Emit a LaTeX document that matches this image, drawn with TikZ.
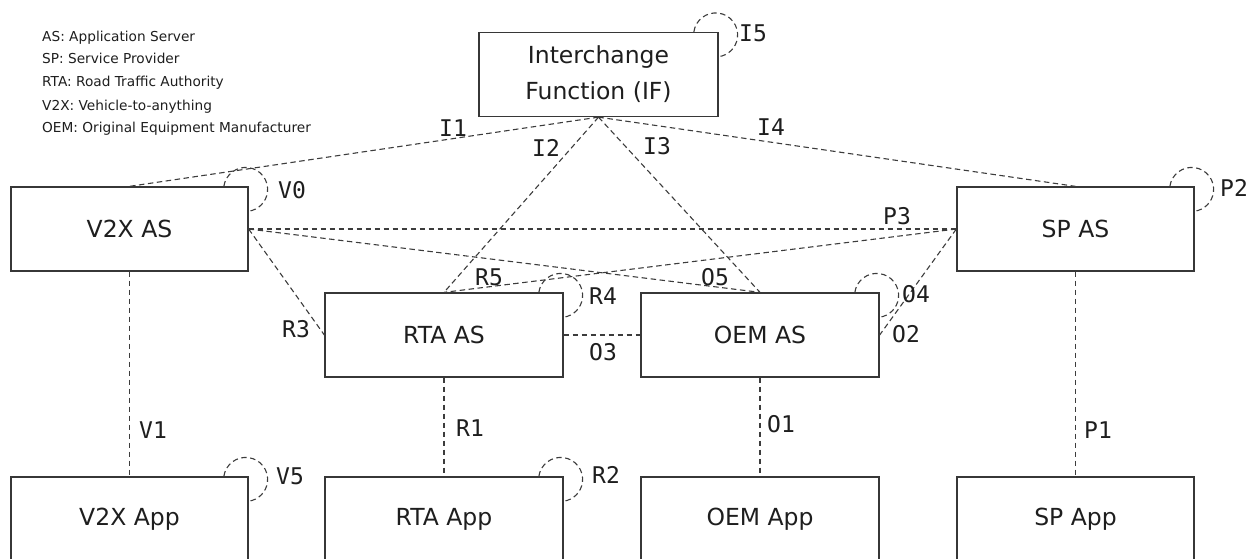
\documentclass[tikz,border=0pt]{standalone}
\usepackage{fontspec}
\setmainfont{DejaVu Sans}
\newfontfamily\labelfont{DejaVu Sans Mono}
\definecolor{boxline}{RGB}{55,55,55}
\definecolor{dashline}{RGB}{60,60,60}
\definecolor{txt}{RGB}{30,30,30}
\tikzset{
  box/.style={draw=boxline, line width=1.3pt, minimum width=237pt, minimum height=84pt,
    inner sep=0pt, align=center, text=txt, font=\fontsize{23.5}{36}\selectfont},
  link/.style={draw=dashline, line width=1.1pt, dash pattern=on 5.5pt off 3.5pt},
  lbl/.style={text=txt, inner sep=0pt, font=\labelfont\fontsize{23}{26}\selectfont},
  legend/.style={anchor=base west, text=txt, inner sep=0pt, font=\fontsize{13.7}{16}\selectfont},
}
% self-loop over the top right corner of a box
\newcommand{\selfloop}[1]{%
  \draw[link] ([xshift=-24.8pt]#1.north east) arc[start angle=172, end angle=-82, radius=22pt];}
\begin{document}
\begin{tikzpicture}[x=1pt, y=-1pt]
\useasboundingbox (0,0) rectangle (1256,558);
\clip (0,0) rectangle (1256,558);

% legend
\node[legend] (lg1) at (42,41)    {AS: Application Server};
\node[legend] (lg2) at (42,63.5)  {SP: Service Provider};
\node[legend] (lg3) at (42,86.5)  {RTA: Road Traffic Authority};
\node[legend] (lg4) at (42,110)   {V2X: Vehicle-to-anything};
\node[legend] (lg5) at (42,132.5) {OEM: Original Equipment Manufacturer};

% boxes
\node[box, minimum width=239pt] (if) at (598.5,74.5) {Interchange\\Function (IF)};
\node[box] (v2xas) at (129.5,229) {V2X AS};
\node[box] (spas)  at (1075.5,229) {SP AS};
\node[box, minimum width=238pt] (rtaas) at (444,335) {RTA AS};
\node[box, minimum width=238pt] (oemas) at (760,335) {OEM AS};
\node[box] (v2xapp) at (129.5,519) {V2X App};
\node[box, minimum width=238pt] (rtaapp) at (444,519) {RTA App};
\node[box, minimum width=238pt] (oemapp) at (760,519) {OEM App};
\node[box] (spapp)  at (1075.5,519) {SP App};

% interchange function links
\draw[link] (if.south) -- (v2xas.north);
\draw[link] (if.south) -- (rtaas.north);
\draw[link] (if.south) -- (oemas.north);
\draw[link] (if.south) -- (spas.north);

% server-to-server links
\draw[link] (v2xas.east) -- (spas.west);
\draw[link] (v2xas.east) -- (oemas.north);
\draw[link] (spas.west) -- (rtaas.north);
\draw[link] (v2xas.east) -- (rtaas.west);
\draw[link] (spas.west) -- (oemas.east);
\draw[link] (rtaas.east) -- (oemas.west);

% server-to-application links
\draw[link] (v2xas.south) -- (v2xapp.north);
\draw[link] (rtaas.south) -- (rtaapp.north);
\draw[link] (oemas.south) -- (oemapp.north);
\draw[link] (spas.south) -- (spapp.north);

% self-loops
\selfloop{if}
\selfloop{v2xas}
\selfloop{spas}
\selfloop{rtaas}
\selfloop{oemas}
\selfloop{v2xapp}
\selfloop{rtaapp}

% reference point labels
\node[lbl] (lI1) at (453,128) {I1};
\node[lbl] (lI2) at (546,148) {I2};
\node[lbl] (lI3) at (657,146) {I3};
\node[lbl] (lI4) at (771,127) {I4};
\node[lbl] (lI5) at (753,33)  {I5};
\node[lbl] (lV0) at (292,190) {V0};
\node[lbl] (lP2) at (1234,188) {P2};
\node[lbl] (lP3) at (897,216) {P3};
\node[lbl] (lR5) at (489,277) {R5};
\node[lbl] (lO5) at (715,277) {O5};
\node[lbl] (lR4) at (603,296) {R4};
\node[lbl] (lO4) at (916,294) {O4};
\node[lbl] (lO2) at (906,334) {O2};
\node[lbl] (lR3) at (296,329) {R3};
\node[lbl] (lO3) at (603,352) {O3};
\node[lbl] (lV1) at (153,430) {V1};
\node[lbl] (lR1) at (470,428) {R1};
\node[lbl] (lO1) at (781,424) {O1};
\node[lbl] (lP1) at (1098,430) {P1};
\node[lbl] (lV5) at (290,476) {V5};
\node[lbl] (lR2) at (606,475) {R2};
\end{tikzpicture}
\end{document}
